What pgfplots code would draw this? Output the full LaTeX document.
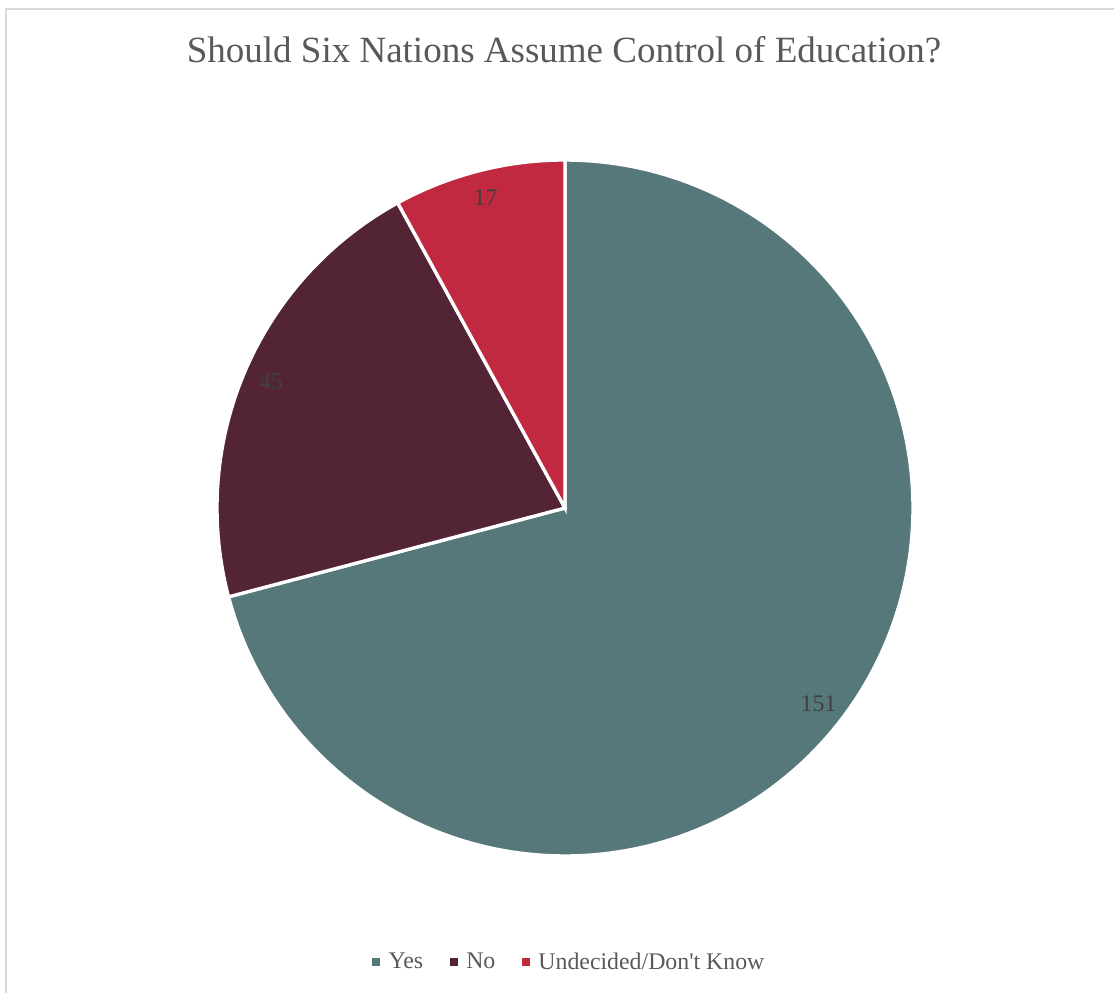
\documentclass[border=0pt]{standalone}
\usepackage{pgfplots}
\usepackage{pgfplotstable}
\usepackage{fontspec}
\setmainfont{Liberation Serif}[Ligatures=TeXOff]
\pgfplotsset{compat=1.18}
\definecolor{cYes}{HTML}{56787A}
\definecolor{cNo}{HTML}{532436}
\definecolor{cUnd}{HTML}{C0293F}
\definecolor{cTitle}{HTML}{595959}
\definecolor{cLab}{HTML}{404040}
\definecolor{cFrame}{HTML}{D9D9D9}
\pgfplotstableread{
label value
Yes 151
No 45
Undecided 17
}\piedata
\begin{document}
\begin{tikzpicture}
\pgfplotstablegetelem{0}{value}\of\piedata \let\vYes\pgfplotsretval
\pgfplotstablegetelem{1}{value}\of\piedata \let\vNo\pgfplotsretval
\pgfplotstablegetelem{2}{value}\of\piedata \let\vUnd\pgfplotsretval
\pgfmathsetmacro\tot{\vYes+\vNo+\vUnd}
\pgfmathsetmacro\aA{90}
\pgfmathsetmacro\aB{90-360*(\vYes/\tot)}
\pgfmathsetmacro\aC{\aB-360*(\vNo/\tot)}
\pgfmathsetmacro\aD{\aC-360*(\vUnd/\tot)}
\pgfmathsetmacro\mA{(\aA+\aB)/2}
\pgfmathsetmacro\mB{(\aB+\aC)/2}
\pgfmathsetmacro\mC{(\aC+\aD)/2}
\begin{axis}[
  width=668.4pt, height=595.8pt, scale only axis,
  xmin=0, xmax=1114, ymin=0, ymax=993,
  hide axis, clip=false,
  legend columns=3,
  legend style={draw=none, fill=none, at={(axis cs:570,31)}, anchor=center,
    font=\fontsize{14.3pt}{16pt}\selectfont, text=cTitle,
    /tikz/every odd column/.append style={column sep=3pt},
    /tikz/every even column/.append style={column sep=14pt}},
  legend image code/.code={\fill[#1, draw=none] (0pt,-2.4pt) rectangle (4.8pt,2.4pt);},
]
\draw[cFrame, line width=1.2pt] (axis cs:6,0) -- (axis cs:6,984) -- (axis cs:1114,984);
\addplot[fill=cYes, draw=white, line width=2pt, domain=\aB:\aA, samples=150, variable=\t]
  ({565+348*cos(\t)},{485+348*sin(\t)}) -- (axis cs:565,485) -- cycle;
\addlegendentry{Yes}
\addplot[fill=cNo, draw=white, line width=2pt, domain=\aC:\aB, samples=60, variable=\t]
  ({565+348*cos(\t)},{485+348*sin(\t)}) -- (axis cs:565,485) -- cycle;
\addlegendentry{No}
\addplot[fill=cUnd, draw=white, line width=2pt, domain=\aD:\aC, samples=30, variable=\t]
  ({565+348*cos(\t)},{485+348*sin(\t)}) -- (axis cs:565,485) -- cycle;
\addlegendentry{Undecided/Don't Know}
\node[font=\fontsize{14.3pt}{16pt}\selectfont, text=cLab] at (axis cs:{565+320*cos(\mA)},{485+320*sin(\mA)}) {\vYes};
\node[font=\fontsize{14.3pt}{16pt}\selectfont, text=cLab] at (axis cs:{565+320*cos(\mB)},{485+320*sin(\mB)}) {\vNo};
\node[font=\fontsize{14.3pt}{16pt}\selectfont, text=cLab] at (axis cs:{565+320*cos(\mC)},{485+320*sin(\mC)}) {\vUnd};
\node[anchor=base, font=\fontsize{22.2pt}{26pt}\selectfont, text=cTitle] at (axis cs:564,930) {Should Six Nations Assume Control of Education?};
\end{axis}
\pgfresetboundingbox
\path[use as bounding box] (current axis.south west) rectangle (current axis.north east);
\end{tikzpicture}
\end{document}
